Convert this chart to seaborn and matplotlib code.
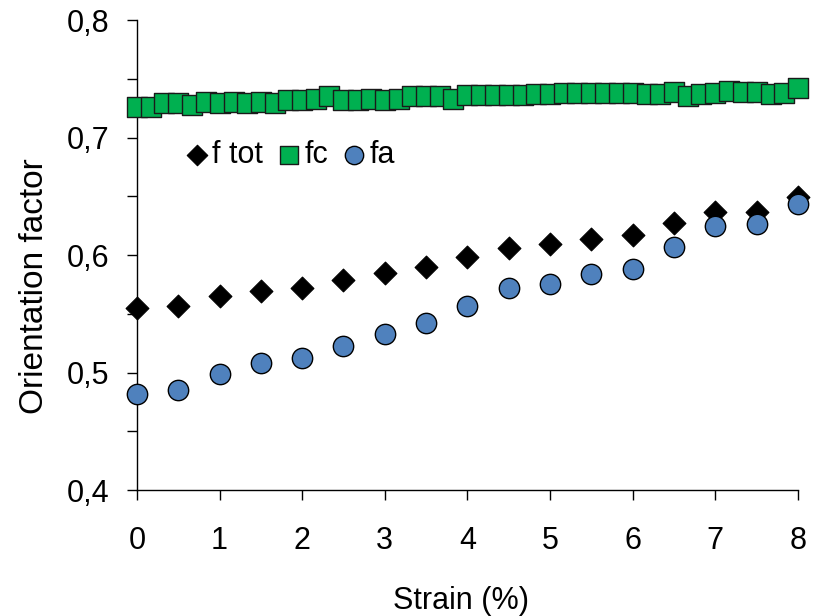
import matplotlib
matplotlib.use("Agg")
import matplotlib.pyplot as plt
import seaborn as sns
from matplotlib.ticker import FuncFormatter, MultipleLocator

# data
strain = [0, 0.5, 1, 1.5, 2, 2.5, 3, 3.5, 4, 4.5, 5, 5.5, 6, 6.5, 7, 7.5, 8]
f_tot = [0.555, 0.557, 0.565, 0.569, 0.572, 0.579, 0.585, 0.590, 0.598, 0.606,
         0.609, 0.614, 0.617, 0.627, 0.637, 0.637, 0.649]
f_a = [0.482, 0.485, 0.499, 0.508, 0.512, 0.523, 0.533, 0.542, 0.557, 0.572,
       0.575, 0.584, 0.588, 0.607, 0.625, 0.626, 0.643]

strain_c = [0, 0.17, 0.33, 0.5, 0.67, 0.83, 1, 1.17, 1.33, 1.5, 1.67, 1.83,
            2, 2.17, 2.33, 2.5, 2.67, 2.83, 3, 3.17, 3.33, 3.5, 3.67, 3.83,
            4, 4.17, 4.33, 4.5, 4.67, 4.83, 5, 5.17, 5.33, 5.5, 5.67, 5.83,
            6, 6.17, 6.33, 6.5, 6.67, 6.83, 7, 7.17, 7.33, 7.5, 7.67, 7.83, 8]
f_c = [0.726, 0.726, 0.729, 0.729, 0.728, 0.730, 0.729, 0.730, 0.729, 0.730,
       0.729, 0.732, 0.732, 0.733, 0.735, 0.732,
       0.732, 0.733, 0.732, 0.733, 0.735, 0.735, 0.735, 0.733, 0.736, 0.736,
       0.736, 0.736, 0.736, 0.737, 0.737, 0.738,
       0.738, 0.738, 0.738, 0.738, 0.738, 0.737, 0.737, 0.739, 0.735, 0.737,
       0.738, 0.740, 0.739, 0.739, 0.737, 0.738, 0.742]

sns.set_style("ticks")
plt.rcParams['font.family'] = ['Liberation Sans', 'DejaVu Sans']
plt.rcParams['text.color'] = 'black'
plt.rcParams['axes.labelcolor'] = 'black'

fig = plt.figure(figsize=(8.2, 6.16), dpi=100)
ax = fig.add_axes([0.167, 0.2045, 0.806, 0.763])

sns.scatterplot(x=strain, y=f_tot, marker='D', s=135, color='black',
                edgecolor='black', linewidth=0.8, label='f tot', ax=ax,
                clip_on=False, zorder=3)
sns.scatterplot(x=strain_c, y=f_c, marker='s', s=200, color='#00B050',
                edgecolor='#1a1a1a', linewidth=1.0, label='fc', ax=ax,
                clip_on=False, zorder=3)
sns.scatterplot(x=strain, y=f_a, marker='o', s=215, color='#4F81BD',
                edgecolor='black', linewidth=1.0, label='fa', ax=ax,
                clip_on=False, zorder=4)

ax.set_xlim(0, 8)
ax.set_ylim(0.4, 0.8)
ax.xaxis.set_major_locator(MultipleLocator(1))
ax.yaxis.set_major_locator(MultipleLocator(0.1))
ax.yaxis.set_minor_locator(MultipleLocator(0.05))
ax.yaxis.set_major_formatter(FuncFormatter(lambda v, p: f"{v:.1f}".replace('.', ',')))

ax.tick_params(axis='both', which='both', direction='out', length=7,
               width=1, color='black', labelsize=22, labelcolor='black')
ax.tick_params(axis='x', pad=19)
ax.tick_params(axis='y', pad=13)

sns.despine(ax=ax)
for side in ['left', 'bottom']:
    ax.spines[side].set_color('black')
    ax.spines[side].set_linewidth(1)

ax.set_xlabel('Strain (%)', fontsize=22)
ax.set_ylabel('Orientation factor', fontsize=24)
ax.xaxis.set_label_coords(0.49, -0.205)
ax.yaxis.set_label_coords(-0.132, 0.434)

ax.legend(loc='center left', bbox_to_anchor=(0.068, 0.713), ncol=3,
          frameon=False, fontsize=22, markerscale=0.9, handletextpad=0.0,
          columnspacing=0.35, handlelength=1.0, borderpad=0,
          borderaxespad=0)

fig.savefig('out.png', dpi=100)
